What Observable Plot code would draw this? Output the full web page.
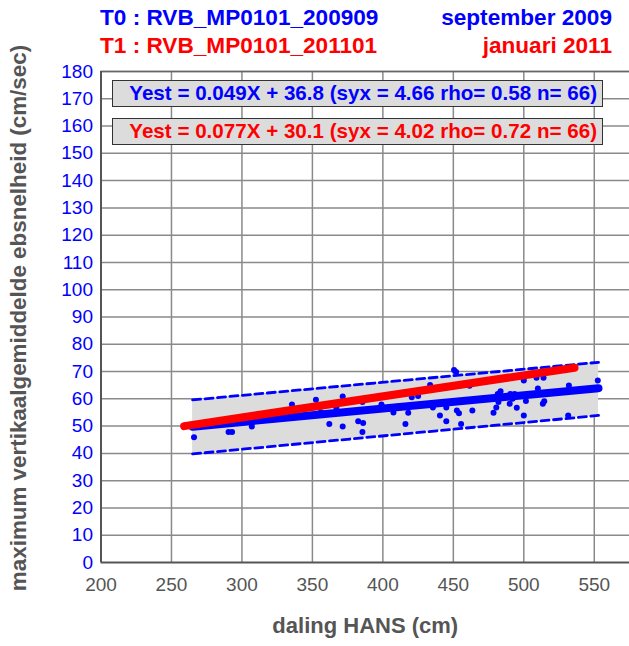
<!DOCTYPE html>
<html>
<head>
<meta charset="utf-8">
<script src="https://cdn.jsdelivr.net/npm/d3@7"></script>
<script src="https://cdn.jsdelivr.net/npm/@observablehq/plot@0.6"></script>
<style>
  html, body { margin: 0; padding: 0; background: #fff; }
  #wrap { position: relative; width: 629px; height: 646px; font-family: "Liberation Sans", Arial, Helvetica, sans-serif; }
  .ttl { position: absolute; font-weight: bold; font-size: 22.6px; line-height: 26px; white-space: nowrap; }
  .box { position: absolute; left: 112px; width: 491px; height: 27px; box-sizing: border-box;
         border: 1.5px solid #333; background: #dcdcdc; text-align: right; padding-right: 5px;
         font-weight: bold; font-size: 20.6px; line-height: 24px; white-space: nowrap; }
</style>
</head>
<body>
<div id="wrap"></div>
<script>
// ---- data ----
const xTicks = [200, 250, 300, 350, 400, 450, 500, 550];
const yTicks = [0, 10, 20, 30, 40, 50, 60, 70, 80, 90, 100, 110, 120, 130, 140, 150, 160, 170, 180];

const titleT0 = "T0 : RVB_MP0101_200909";
const titleT1 = "T1 : RVB_MP0101_201101";
const dateT0 = "september 2009";
const dateT1 = "januari 2011";
const eqT0 = "Yest = 0.049X + 36.8 (syx = 4.66 rho= 0.58 n= 66)";
const eqT1 = "Yest = 0.077X + 30.1 (syx = 4.02 rho= 0.72 n= 66)";
const xLabel = "daling HANS (cm)";
const yLabel = "maximum vertikaalgemiddelde ebsnelheid (cm/sec)";

// T0 measurements (blue dots)
const ptX = [266, 290.5, 293, 307, 335.5, 352.5, 356, 362, 367, 371.5, 371.5, 382.5, 386, 385.5, 385.5,
             399, 407.5, 416, 418, 420.5, 425, 433.5, 435.5, 440.5, 445, 445, 450.5, 452, 452.5, 454,
             455.5, 461.5, 463.5, 478.5, 480.5, 481.5, 483.5, 482, 490, 490.5, 492, 493.5, 495, 500,
             500, 501.5, 509, 514, 510, 513.5, 514.5, 532, 531.5, 552.5,
             280, 300, 320, 340, 395, 410, 430, 470, 505, 520, 540, 548];
const ptY = [45.9, 47.8, 47.8, 49.9, 57.9, 59.7, 55.1, 50.8, 56.7, 60.9, 49.9, 51.8, 51.1, 47.8, 58.8,
             57.9, 55.0, 50.8, 54.9, 60.6, 61.0, 65.1, 56.8, 53.9, 51.8, 56.8, 70.6, 69.8, 55.7, 54.7,
             50.8, 64.8, 55.7, 54.9, 56.8, 61.8, 62.8, 58.8, 58.2, 61.8, 60.0, 61.8, 56.7, 66.7,
             53.9, 59.2, 67.7, 67.7, 63.8, 58.2, 59.1, 64.9, 53.9, 66.7,
             50.6, 51.3, 52.5, 53.6, 56.3, 57.1, 58.0, 59.9, 61.6, 62.4, 63.3, 63.7];

// regression lines (end points)
const fitT0X = [265, 553];
const fitT0Y = [49.8, 63.9];
const fitT1X = [259, 536];
const fitT1Y = [50.0, 71.4];

// confidence band around T0 fit
const bandX = [265, 553];
const bandLo = [39.8, 53.9];
const bandHi = [59.6, 73.4];

// ---- build tables ----
const points = ptX.map((x, i) => ({x, y: ptY[i]}));
const fit0 = fitT0X.map((x, i) => ({x, y: fitT0Y[i]}));
const fit1 = fitT1X.map((x, i) => ({x, y: fitT1Y[i]}));
const band = bandX.map((x, i) => ({x, lo: bandLo[i], hi: bandHi[i]}));

const BLUE = "#0000ff", RED = "#ff0000", GREY = "#555555";

const chart = Plot.plot({
  width: 629,
  height: 646,
  marginLeft: 100.5,
  marginRight: 0,
  marginTop: 71,
  marginBottom: 84,
  style: {fontFamily: '"Liberation Sans", Arial, Helvetica, sans-serif', background: "#fff", overflow: "visible"},
  x: {domain: [200, 575], axis: null},
  y: {domain: [0, 180], axis: null},
  marks: [
    Plot.ruleX(xTicks.slice(1), {stroke: "#8a8a8a", strokeWidth: 1.5}),
    Plot.ruleY(yTicks.slice(1), {stroke: "#8a8a8a", strokeWidth: 1.5}),
    Plot.areaY(band, {x: "x", y1: "lo", y2: "hi", fill: "#dcdcdc"}),
    Plot.line(band, {x: "x", y: "hi", stroke: BLUE, strokeWidth: 2.8, strokeDasharray: "8,4.5"}),
    Plot.line(band, {x: "x", y: "lo", stroke: BLUE, strokeWidth: 2.8, strokeDasharray: "8,4.5"}),
    Plot.line(fit0, {x: "x", y: "y", stroke: BLUE, strokeWidth: 8, strokeLinecap: "round"}),
    Plot.dot(points, {x: "x", y: "y", r: 3, fill: BLUE, stroke: null}),
    Plot.line(fit1, {x: "x", y: "y", stroke: RED, strokeWidth: 8, strokeLinecap: "round"}),
    Plot.ruleY([180], {stroke: "#666", strokeWidth: 1.5}),
    Plot.ruleX([200], {stroke: GREY, strokeWidth: 2}),
    Plot.ruleY([0], {stroke: GREY, strokeWidth: 2}),
    Plot.axisY({ticks: yTicks, tickSize: 0, tickPadding: 8, fontSize: 19, color: BLUE, label: null, tickFormat: d => String(d)}),
    Plot.axisX({ticks: xTicks, tickSize: 0, tickPadding: 15, fontSize: 19, color: GREY, label: null, tickFormat: d => String(d)}),
    Plot.text([xLabel], {frameAnchor: "bottom", dy: 70, fontSize: 22, fontWeight: "bold", fill: GREY}),
    Plot.text([yLabel], {frameAnchor: "left", textAnchor: "middle", dx: -82, dy: 1, rotate: -90, fontSize: 22.4, fontWeight: "bold", fill: GREY})
  ]
});

const wrap = document.getElementById("wrap");
wrap.appendChild(chart);

function addDiv(cls, text, css) {
  const d = document.createElement("div");
  d.className = cls;
  d.textContent = text;
  Object.assign(d.style, css);
  wrap.appendChild(d);
}
addDiv("ttl", titleT0, {left: "100px", top: "5px", color: BLUE});
addDiv("ttl", dateT0, {right: "17px", top: "5px", color: BLUE});
addDiv("ttl", titleT1, {left: "100px", top: "33px", color: RED});
addDiv("ttl", dateT1, {right: "17px", top: "33px", color: RED});
addDiv("box", eqT0, {top: "80px", color: BLUE});
addDiv("box", eqT1, {top: "118px", color: RED});
</script>
</body>
</html>
